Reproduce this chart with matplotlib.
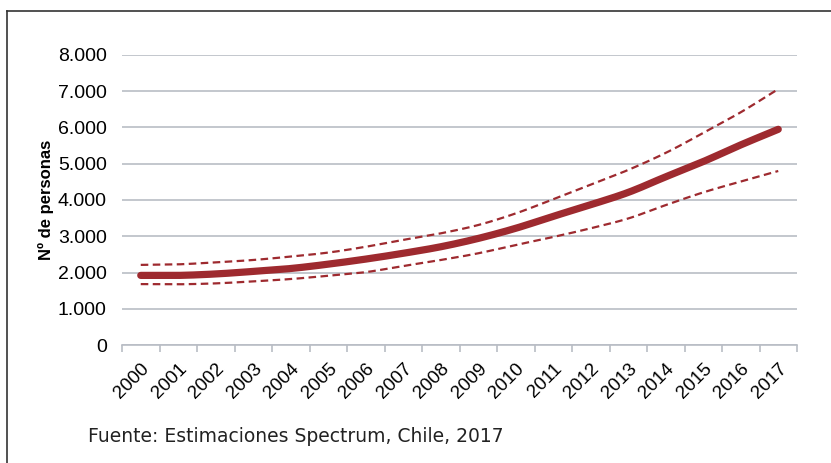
import matplotlib
matplotlib.use("Agg")
import matplotlib.pyplot as plt
from matplotlib.lines import Line2D
from matplotlib.ticker import FuncFormatter, FixedLocator
import numpy as np

years = [str(y) for y in range(2000, 2018)]
estimate = [1920, 1920, 1960, 2030, 2110, 2230, 2370, 2530, 2710, 2940,
            3220, 3550, 3870, 4210, 4640, 5060, 5520, 5950]
upper = [2210, 2225, 2280, 2345, 2440, 2550, 2710, 2900, 3080, 3310,
         3630, 4020, 4420, 4830, 5300, 5850, 6420, 7060]
lower = [1680, 1675, 1700, 1755, 1820, 1910, 2010, 2180, 2345, 2530,
         2760, 2980, 3220, 3490, 3860, 4210, 4510, 4800]
y_ticks = [0, 1000, 2000, 3000, 4000, 5000, 6000, 7000, 8000]

RED = "#9e2a2f"
GRID = "#b9bdc5"


def smooth(xs, ys, steps=20):
    """Catmull-Rom curve through every point (like a 'smoothed line' chart)."""
    xs = np.asarray(xs, float)
    ys = np.asarray(ys, float)
    px = np.concatenate([[2 * xs[0] - xs[1]], xs, [2 * xs[-1] - xs[-2]]])
    py = np.concatenate([[2 * ys[0] - ys[1]], ys, [2 * ys[-1] - ys[-2]]])
    out_x, out_y = [], []
    t = np.linspace(0, 1, steps, endpoint=False)
    for i in range(1, len(px) - 2):
        for arr, out in ((px, out_x), (py, out_y)):
            p0, p1, p2, p3 = arr[i - 1], arr[i], arr[i + 1], arr[i + 2]
            out.extend(0.5 * ((2 * p1) + (-p0 + p2) * t
                              + (2 * p0 - 5 * p1 + 4 * p2 - p3) * t ** 2
                              + (-p0 + 3 * p1 - 3 * p2 + p3) * t ** 3))
    out_x.append(xs[-1])
    out_y.append(ys[-1])
    return np.array(out_x), np.array(out_y)


W, H = 831, 463
fig = plt.figure(figsize=(W / 100, H / 100), dpi=100)
ax = fig.add_axes([122 / W, (H - 345) / H, 675 / W, 290 / H])

x = np.arange(len(years))
dash = (0, (3.4, 2.0))
ax.plot(*smooth(x, upper), color=RED, lw=1.6, ls=dash, zorder=3)
ax.plot(*smooth(x, lower), color=RED, lw=1.6, ls=dash, zorder=3)
ax.plot(*smooth(x, estimate), color=RED, lw=5.2, solid_capstyle="round",
        solid_joinstyle="round", zorder=4)

ax.set_xlim(-0.5, len(years) - 0.5)
ax.set_ylim(0, 8000)
ax.set_yticks(y_ticks)
ax.yaxis.set_major_formatter(FuncFormatter(lambda v, p: f"{int(v):,}".replace(",", ".")))
ax.grid(axis="y", color=GRID, lw=1.2)
ax.set_axisbelow(True)

ax.set_xticks(x)
ax.set_xticklabels(years, rotation=45, ha="right", va="top",
                   rotation_mode="anchor", fontsize=13.5,
                   family="Liberation Sans")
ax.xaxis.set_minor_locator(FixedLocator(np.arange(-0.5, len(years), 1.0)))
ax.tick_params(axis="x", which="major", length=0, pad=11)
ax.tick_params(axis="x", which="minor", length=5, width=1.2, color=GRID)
ax.tick_params(axis="y", length=0, pad=11, labelsize=14)
for lab in ax.get_yticklabels():
    lab.set_family("Liberation Sans")

for s in ["top", "right", "left"]:
    ax.spines[s].set_visible(False)
ax.spines["bottom"].set_color(GRID)
ax.spines["bottom"].set_linewidth(1.2)

ax.set_ylabel("Nº de personas", fontsize=12, fontweight="bold",
              family="Liberation Sans")
ax.yaxis.set_label_coords(-0.101, 0.5)

fig.text(88 / W, 1 - 437 / H, "Fuente: Estimaciones Spectrum, Chile, 2017",
         fontsize=13.5, family="DejaVu Sans", va="center", ha="left",
         color="#222222")

# outer frame (top and left edges)
fig.add_artist(Line2D([7 / W, 1.0], [1 - 11 / H, 1 - 11 / H],
                      transform=fig.transFigure, color="#333333", lw=1.2))
fig.add_artist(Line2D([7 / W, 7 / W], [0.0, 1 - 11 / H],
                      transform=fig.transFigure, color="#333333", lw=1.2))

fig.savefig("out.png", dpi=100, facecolor="white")
